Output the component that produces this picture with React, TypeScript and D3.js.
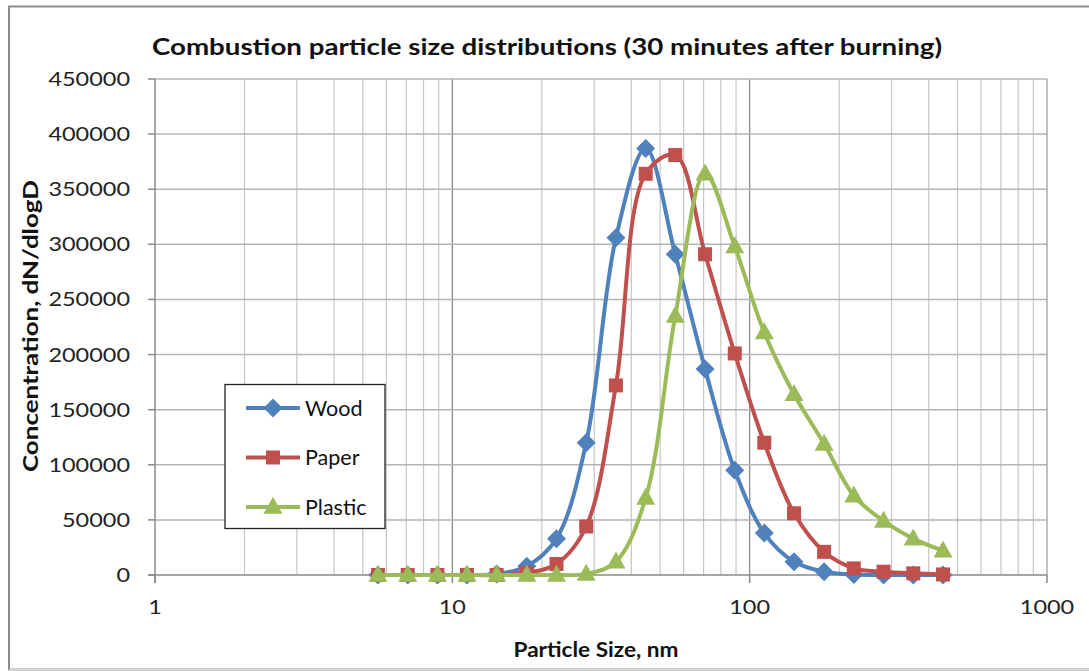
import React from "react";
import * as d3 from "d3";

const sizes = [5.62, 7.08, 8.91, 11.2, 14.1, 17.8, 22.4, 28.2, 35.5, 44.7, 56.2, 70.8, 89.1, 112, 141, 178, 224, 282, 355, 447];
const wood = [0, 0, 0, 0, 1000, 8000, 33000, 120000, 306000, 387000, 291000, 187000, 95000, 38000, 12000, 3000, 500, 0, 0, 0];
const paper = [0, 0, 0, 0, 0, 2000, 10000, 44000, 172000, 364000, 381000, 291000, 201000, 120000, 56000, 21000, 6000, 3000, 1500, 500];
const plastic = [0, 0, 0, 0, 0, 0, 0, 1000, 12000, 70000, 235000, 364000, 298000, 220000, 164000, 119000, 72000, 49000, 33000, 22000];
const yTicks = [0, 50000, 100000, 150000, 200000, 250000, 300000, 350000, 400000, 450000];
const xTicks = [1, 10, 100, 1000];
const seriesNames = ["Wood", "Paper", "Plastic"];

const W = 1089, H = 671;
const left = 155, right = 1047, top = 79, bottom = 575;
const FONT = "Lato, 'Open Sans', sans-serif";
const DIGIT = 13.6;

const colors: Record<string, string> = { Wood: "#4F81BD", Paper: "#C0504D", Plastic: "#9BBB59" };
const shapes: Record<string, string> = { Wood: "diamond", Paper: "square", Plastic: "triangle" };

function Marker({ kind, x, y, color }: { kind: string; x: number; y: number; color: string }) {
  if (kind === "diamond") {
    const r = 9.5;
    return <path d={`M${x},${y - r}L${x + r},${y}L${x},${y + r}L${x - r},${y}Z`} fill={color} />;
  }
  if (kind === "square") {
    const s = 14;
    return <rect x={x - s / 2} y={y - s / 2} width={s} height={s} fill={color} />;
  }
  const w = 19, h = 17;
  return <path d={`M${x},${y - h * 0.6}L${x + w / 2},${y + h * 0.4}L${x - w / 2},${y + h * 0.4}Z`} fill={color} />;
}

export default function App() {
  const x = d3.scaleLog().domain([1, 1000]).range([left, right]);
  const y = d3.scaleLinear().domain([0, 450000]).range([bottom, top]);
  const data: Record<string, number[]> = { Wood: wood, Paper: paper, Plastic: plastic };
  const line = d3
    .line<[number, number]>()
    .x((d) => x(d[0]))
    .y((d) => y(d[1]))
    .curve(d3.curveCatmullRom.alpha(0.5));

  const minor: number[] = [];
  for (let dec = 1; dec < 1000; dec *= 10) for (let m = 2; m <= 9; m++) minor.push(dec * m);

  return (
    <svg width={W} height={H} style={{ position: "absolute", left: 0, top: 0, background: "#fff" }}>
      <rect x={9} y={6.5} width={1090} height={663} fill="#fff" stroke="#8c8c8c" strokeWidth={2} />
      <line x1={9} x2={1089} y1={669.5} y2={669.5} stroke="#d8d8d8" strokeWidth={1.5} />
      {/* grid */}
      {minor.map((v) => (
        <line key={"m" + v} x1={x(v)} x2={x(v)} y1={top} y2={bottom} stroke="#c6c6c6" strokeWidth={1.2} />
      ))}
      {xTicks.slice(1, 3).map((v) => (
        <line key={"M" + v} x1={x(v)} x2={x(v)} y1={top} y2={bottom} stroke="#8a8a8a" strokeWidth={1.3} />
      ))}
      {yTicks.slice(1).map((v) => (
        <line key={"h" + v} x1={left} x2={right} y1={y(v)} y2={y(v)} stroke="#b4b4b4" strokeWidth={1.5} />
      ))}
      <line x1={right} x2={right} y1={top} y2={bottom} stroke="#a0a0a0" strokeWidth={1.3} />
      {/* axes */}
      <line x1={left} x2={left} y1={top} y2={bottom + 8} stroke="#8a8a8a" strokeWidth={1.5} />
      <line x1={left - 7} x2={right} y1={bottom} y2={bottom} stroke="#8a8a8a" strokeWidth={1.5} />
      {yTicks.map((v) => {
        const s = String(v);
        return (
          <g key={"yt" + v}>
            <line x1={left - 7} x2={left} y1={y(v)} y2={y(v)} stroke="#8a8a8a" strokeWidth={1.5} />
            <text x={130} y={y(v) + 7} textAnchor="end" fontFamily={FONT} fontSize={20} fill="#222" textLength={s.length * DIGIT} lengthAdjust="spacingAndGlyphs">
              {s}
            </text>
          </g>
        );
      })}
      {xTicks.map((v) => {
        const s = String(v);
        return (
          <g key={"xt" + v}>
            <line x1={x(v)} x2={x(v)} y1={bottom} y2={bottom + 8} stroke="#8a8a8a" strokeWidth={1.5} />
            <text x={x(v)} y={614} textAnchor="middle" fontFamily={FONT} fontSize={20} fill="#222" textLength={s.length * DIGIT} lengthAdjust="spacingAndGlyphs">
              {s}
            </text>
          </g>
        );
      })}
      {/* series */}
      {seriesNames.map((name) => {
        const pts: [number, number][] = sizes.map((s, i) => [s, data[name][i]]);
        return (
          <g key={name}>
            <path d={line(pts) || ""} fill="none" stroke={colors[name]} strokeWidth={4} />
            {pts.map((p, i) => (
              <Marker key={i} kind={shapes[name]} x={x(p[0])} y={y(p[1])} color={colors[name]} />
            ))}
          </g>
        );
      })}
      {/* titles */}
      <text x={547} y={55} textAnchor="middle" fontFamily={FONT} fontWeight="bold" fontSize={22} fill="#111" textLength={790} lengthAdjust="spacingAndGlyphs">
        Combustion particle size distributions (30 minutes after burning)
      </text>
      <text x={596} y={657} textAnchor="middle" fontFamily={FONT} fontWeight="bold" fontSize={21} fill="#111" textLength={165} lengthAdjust="spacingAndGlyphs">
        Particle Size, nm
      </text>
      <text transform={`translate(38,326) rotate(-90)`} textAnchor="middle" fontFamily={FONT} fontWeight="bold" fontSize={21} fill="#111" textLength={292} lengthAdjust="spacingAndGlyphs">
        Concentration, dN/dlogD
      </text>
      {/* legend */}
      <rect x={225} y={384.5} width={160} height={144} fill="#fff" stroke="#222" strokeWidth={1.3} />
      {seriesNames.map((name, i) => {
        const ly = 408 + i * 49.5;
        return (
          <g key={"lg" + name}>
            <line x1={246} x2={300} y1={ly} y2={ly} stroke={colors[name]} strokeWidth={4} />
            <Marker kind={shapes[name]} x={273} y={ly} color={colors[name]} />
            <text x={305} y={ly + 7.5} fontFamily={FONT} fontSize={21.5} fill="#111">
              {name}
            </text>
          </g>
        );
      })}
    </svg>
  );
}
